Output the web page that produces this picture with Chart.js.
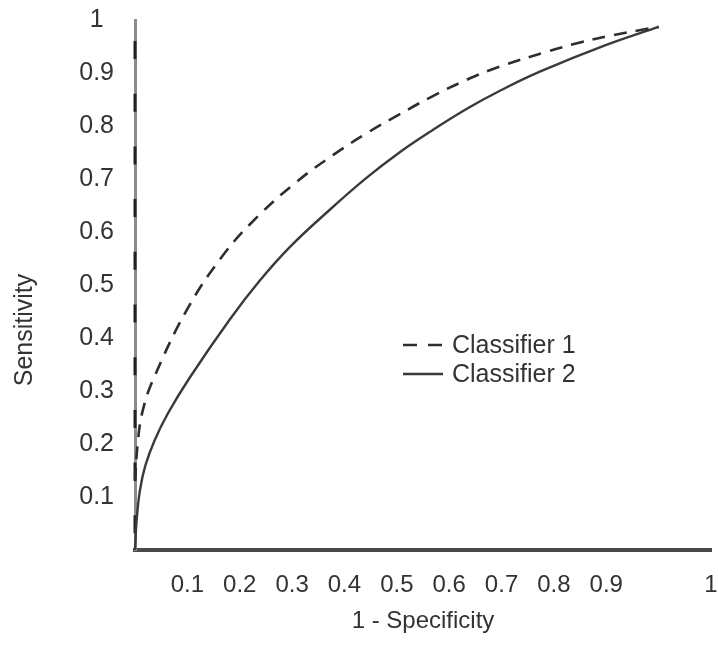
<!DOCTYPE html>
<html>
<head>
<meta charset="utf-8">
<script src="https://cdn.jsdelivr.net/npm/chart.js@4/dist/chart.umd.min.js"></script>
<style>
  html, body { margin: 0; padding: 0; background: #ffffff; }
  #wrap { width: 718px; height: 661px; }
</style>
</head>
<body>
<div id="wrap"><canvas id="c" width="718" height="661"></canvas></div>
<script>
// ---- data ----
const seriesLabels = ['Classifier 1', 'Classifier 2'];
const c1x = [0, 0.006, 0.015, 0.034, 0.099, 0.168, 0.233, 0.309, 0.378, 0.442, 0.505, 0.568, 0.633, 0.696, 0.786, 0.848, 0.911, 0.976, 1.0];
const c1y = [0.13, 0.21, 0.264, 0.32, 0.453, 0.556, 0.628, 0.695, 0.745, 0.786, 0.822, 0.856, 0.887, 0.912, 0.94, 0.957, 0.971, 0.983, 0.987];
const c2x = [0, 0.003, 0.0095, 0.02, 0.038, 0.063, 0.105, 0.181, 0.238, 0.296, 0.372, 0.442, 0.505, 0.568, 0.633, 0.696, 0.772, 0.9, 1.0];
const c2y = [0, 0.055, 0.113, 0.16, 0.208, 0.258, 0.326, 0.435, 0.508, 0.572, 0.642, 0.702, 0.75, 0.792, 0.832, 0.866, 0.902, 0.953, 0.987];
const refX = [0, 0];
const refY = [0, 1];
const xTickValues = [0.1, 0.2, 0.3, 0.4, 0.5, 0.6, 0.7, 0.8, 0.9, 1.1];
const xTickLabels = ['0.1', '0.2', '0.3', '0.4', '0.5', '0.6', '0.7', '0.8', '0.9', '1'];
const yTickValues = [0.1, 0.2, 0.3, 0.4, 0.5, 0.6, 0.7, 0.8, 0.9, 1.0];
const yTickLabels = ['0.1', '0.2', '0.3', '0.4', '0.5', '0.6', '0.7', '0.8', '0.9', '1'];
const xTitle = '1 - Specificity';
const yTitle = 'Sensitivity';

const pts = (xs, ys) => xs.map((x, i) => ({ x: x, y: ys[i] }));
const FONT = "'Liberation Sans', Arial, sans-serif";
const TEXT = '#333333';

const yTitlePlugin = {
  id: 'yTitlePlugin',
  afterDraw(chart) {
    const ctx = chart.ctx;
    ctx.save();
    ctx.translate(25, 330);
    ctx.rotate(-Math.PI / 2);
    ctx.font = '25px ' + FONT;
    ctx.fillStyle = TEXT;
    ctx.textAlign = 'center';
    ctx.textBaseline = 'middle';
    ctx.fillText(yTitle, 0, 0);
    ctx.restore();
  }
};

const legendPlugin = {
  id: 'innerLegend',
  afterDraw(chart) {
    const ctx = chart.ctx;
    const x0 = 403, x1 = 443, tx = 452;
    const rows = [345, 374];
    ctx.save();
    chart.data.datasets.forEach((ds, i) => {
      if (ds.hideInLegend) return;
      const y = rows[i];
      ctx.beginPath();
      ctx.setLineDash(ds.legendDash || []);
      ctx.lineWidth = 2.5;
      ctx.strokeStyle = ds.borderColor;
      ctx.moveTo(x0, y);
      ctx.lineTo(x1, y);
      ctx.stroke();
      ctx.setLineDash([]);
      ctx.font = '25px ' + FONT;
      ctx.fillStyle = TEXT;
      ctx.textAlign = 'left';
      ctx.textBaseline = 'middle';
      ctx.fillText(ds.label, tx, y + 1);
    });
    ctx.restore();
  }
};

new Chart(document.getElementById('c'), {
  type: 'line',
  data: {
    datasets: [
      {
        label: seriesLabels[0],
        data: pts(c1x, c1y),
        borderColor: '#2e2e2e',
        borderWidth: 2.6,
        borderDash: [13, 9],
        legendDash: [14, 11],
        pointRadius: 0,
        tension: 0.4,
        clip: false
      },
      {
        label: seriesLabels[1],
        data: pts(c2x, c2y),
        borderColor: '#3a3a3a',
        borderWidth: 2.4,
        pointRadius: 0,
        tension: 0.4,
        clip: false
      },
      {
        label: 'reference',
        hideInLegend: true,
        data: pts(refX, refY),
        borderColor: '#222222',
        borderWidth: 3,
        borderDash: [18, 34.7],
        borderDashOffset: 36,
        pointRadius: 0,
        clip: false
      }
    ]
  },
  options: {
    responsive: false,
    animation: false,
    devicePixelRatio: 1,
    layout: { padding: { top: 20, right: 7, left: 0, bottom: 0 } },
    plugins: { legend: { display: false }, tooltip: { enabled: false } },
    scales: {
      x: {
        type: 'linear',
        min: 0,
        max: 1.1,
        grid: { drawOnChartArea: false, drawTicks: false },
        border: { display: true, color: '#4a4a4a', width: 4 },
        afterBuildTicks(scale) { scale.ticks = xTickValues.map(v => ({ value: v })); },
        afterFit(scale) {
          scale.height = 111;
          scale.paddingLeft = 0; scale.paddingRight = 0;
        },
        ticks: {
          autoSkip: false,
          maxRotation: 0,
          padding: 21,
          color: TEXT,
          font: { family: FONT, size: 24 },
          callback: (v, i) => xTickLabels[i]
        },
        title: {
          display: true,
          text: xTitle,
          color: TEXT,
          font: { family: FONT, size: 24 },
          padding: { top: 0, bottom: 25 }
        }
      },
      y: {
        type: 'linear',
        min: 0,
        max: 1,
        grid: { drawOnChartArea: false, drawTicks: false },
        border: { display: true, color: '#8c8c8c', width: 3 },
        afterBuildTicks(scale) { scale.ticks = yTickValues.map(v => ({ value: v })); },
        afterFit(scale) {
          scale.width = 135;
          scale.paddingTop = 0; scale.paddingBottom = 0;
        },
        ticks: {
          autoSkip: false,
          padding: 21,
          crossAlign: 'center',
          color: TEXT,
          font: { family: FONT, size: 25 },
          callback: (v, i) => yTickLabels[i]
        }
      }
    }
  },
  plugins: [yTitlePlugin, legendPlugin]
});
</script>
</body>
</html>
